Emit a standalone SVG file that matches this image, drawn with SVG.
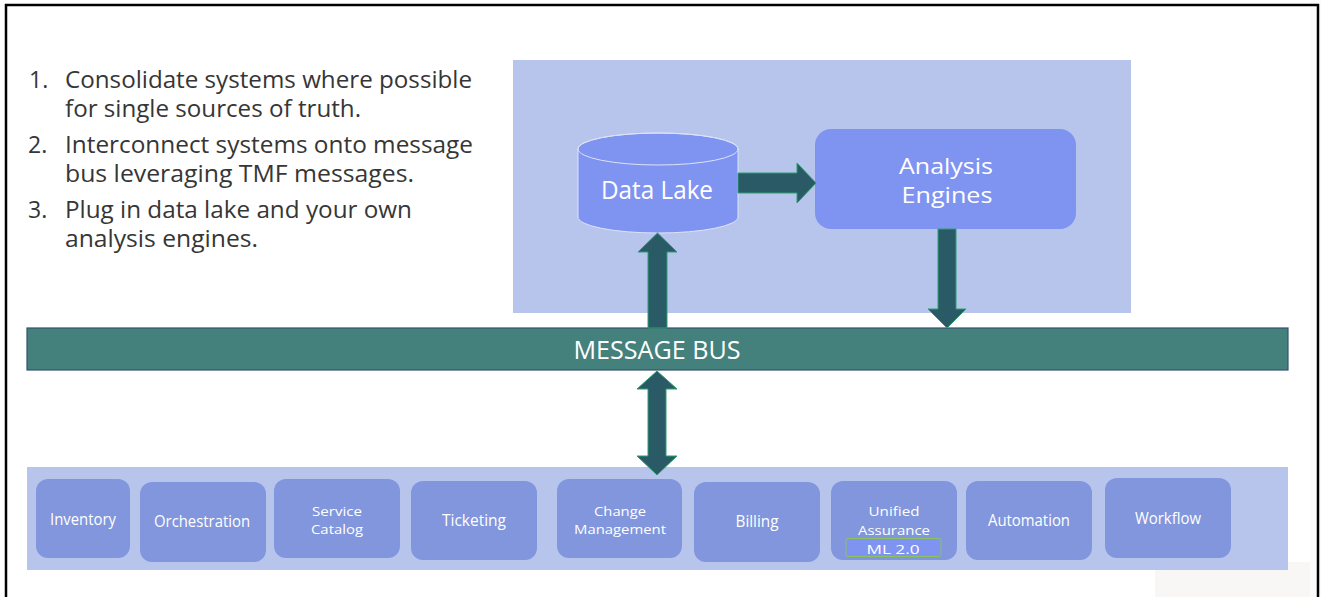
<svg xmlns="http://www.w3.org/2000/svg" width="1321" height="597" viewBox="0 0 1321 597">
<style>
.list{font-family:"Open Sans","Liberation Sans",sans-serif;font-size:23px;fill:#363636}
.big{font-family:"Open Sans","Liberation Sans",sans-serif;font-size:25px;fill:#ffffff;text-anchor:middle}
.big2{font-family:"Open Sans","Liberation Sans",sans-serif;font-size:21px;fill:#ffffff;text-anchor:middle}
.sm{font-family:"Open Sans","Liberation Sans",sans-serif;font-size:16px;fill:#ffffff;text-anchor:middle}
.sm2{font-family:"Open Sans","Liberation Sans",sans-serif;font-size:13.5px;fill:#ffffff;text-anchor:middle}
.panel{fill:#b7c4ec}
.sys{fill:#8196dc}
.hi{fill:#7f93f1}
.arrow{fill:#2a5a66;stroke:#2aa06e;stroke-width:1}
</style>
<rect width="1321" height="597" fill="#ffffff"/>
<rect x="1155" y="562" width="166" height="35" fill="#f8f7f6"/>
<rect x="1310" y="0" width="11" height="597" fill="#fbfbfb"/>
<path d="M6,600 V5 H1318 V600" fill="none" stroke="#000" stroke-width="2.5"/>

<g id="instructions">
<text class="list" x="29" y="88">1.</text>
<text class="list" x="65" y="88" textLength="407" lengthAdjust="spacingAndGlyphs">Consolidate systems where possible</text>
<text class="list" x="65" y="117" textLength="296" lengthAdjust="spacingAndGlyphs">for single sources of truth.</text>
<text class="list" x="28" y="153">2.</text>
<text class="list" x="65" y="153" textLength="408" lengthAdjust="spacingAndGlyphs">Interconnect systems onto message</text>
<text class="list" x="65" y="182" textLength="349" lengthAdjust="spacingAndGlyphs">bus leveraging TMF messages.</text>
<text class="list" x="28" y="218">3.</text>
<text class="list" x="65" y="218" textLength="347" lengthAdjust="spacingAndGlyphs">Plug in data lake and your own</text>
<text class="list" x="65" y="247" textLength="193" lengthAdjust="spacingAndGlyphs">analysis engines.</text>
</g>

<g id="analytics-panel">
<rect class="panel" x="513" y="60" width="618" height="253"/>
</g>

<g id="data-lake">
<path class="hi" d="M578,149 A80,16 0 0 1 738,149 V217 A80,16 0 0 1 578,217 Z" stroke="#dde3f8" stroke-width="1"/>
<ellipse cx="658" cy="149" rx="80" ry="16" fill="none" stroke="#dde3f8" stroke-width="1"/>
<text class="big" x="657" y="199" textLength="112" lengthAdjust="spacingAndGlyphs">Data Lake</text>
</g>

<g id="analysis-engines">
<rect class="hi" x="815" y="129" width="261" height="100" rx="16"/>
<text class="big2" x="946" y="174" textLength="94" lengthAdjust="spacingAndGlyphs">Analysis</text>
<text class="big2" x="947" y="203" textLength="91" lengthAdjust="spacingAndGlyphs">Engines</text>
</g>

<g id="message-bus">
<rect x="27" y="328" width="1261" height="42" fill="#44807c" stroke="#34526e" stroke-width="1.2"/>
<text class="big" x="657" y="359" textLength="167" lengthAdjust="spacingAndGlyphs">MESSAGE BUS</text>
</g>

<g id="systems-panel">
<rect class="panel" x="27" y="467" width="1261" height="103"/>
</g>

<g id="inventory">
<rect class="sys" x="36" y="479" width="94" height="79" rx="12"/>
<text class="sm" x="83" y="525" textLength="66" lengthAdjust="spacingAndGlyphs">Inventory</text>
</g>
<g id="orchestration">
<rect class="sys" x="140" y="482" width="126" height="80" rx="12"/>
<text class="sm" x="202" y="527" textLength="96" lengthAdjust="spacingAndGlyphs">Orchestration</text>
</g>
<g id="service-catalog">
<rect class="sys" x="274" y="479" width="126" height="79" rx="12"/>
<text class="sm2" x="337" y="516" textLength="50" lengthAdjust="spacingAndGlyphs">Service</text>
<text class="sm2" x="337" y="534" textLength="52" lengthAdjust="spacingAndGlyphs">Catalog</text>
</g>
<g id="ticketing">
<rect class="sys" x="411" y="481" width="126" height="79" rx="12"/>
<text class="sm" x="474" y="526" textLength="64" lengthAdjust="spacingAndGlyphs">Ticketing</text>
</g>
<g id="change-management">
<rect class="sys" x="557" y="479" width="125" height="79" rx="12"/>
<text class="sm2" x="620" y="516" textLength="52" lengthAdjust="spacingAndGlyphs">Change</text>
<text class="sm2" x="620" y="534" textLength="92" lengthAdjust="spacingAndGlyphs">Management</text>
</g>
<g id="billing">
<rect class="sys" x="694" y="482" width="126" height="80" rx="12"/>
<text class="sm" x="757" y="527" textLength="43" lengthAdjust="spacingAndGlyphs">Billing</text>
</g>
<g id="unified-assurance">
<rect class="sys" x="831" y="481" width="126" height="79" rx="12"/>
<text class="sm2" x="894" y="516" textLength="51" lengthAdjust="spacingAndGlyphs">Unified</text>
<text class="sm2" x="894" y="535" textLength="72" lengthAdjust="spacingAndGlyphs">Assurance</text>
<rect x="846" y="538.5" width="95" height="18" rx="2" fill="#7f93f1" stroke="#8cc35e" stroke-width="1"/>
<text class="sm2" x="893" y="554" textLength="53" lengthAdjust="spacingAndGlyphs">ML 2.0</text>
</g>
<g id="automation">
<rect class="sys" x="966" y="481" width="126" height="79" rx="12"/>
<text class="sm" x="1029" y="526" textLength="82" lengthAdjust="spacingAndGlyphs">Automation</text>
</g>
<g id="workflow">
<rect class="sys" x="1105" y="478" width="126" height="80" rx="12"/>
<text class="sm" x="1168" y="524" textLength="66" lengthAdjust="spacingAndGlyphs">Workflow</text>
</g>

<g id="connectors">
<polygon class="arrow" points="738,173 797,173 797,163 816,183 797,203 797,193 738,193"/>
<polygon class="arrow" points="657.5,233 677,252 667,252 667,328 648,328 648,252 638,252"/>
<polygon class="arrow" points="938,229 956,229 956,309 966,309 947,328 928,309 938,309"/>
<polygon class="arrow" points="657,371 677,389 666,389 666,456 677,456 657,475 637,456 648,456 648,389 637,389"/>
</g>
</svg>
